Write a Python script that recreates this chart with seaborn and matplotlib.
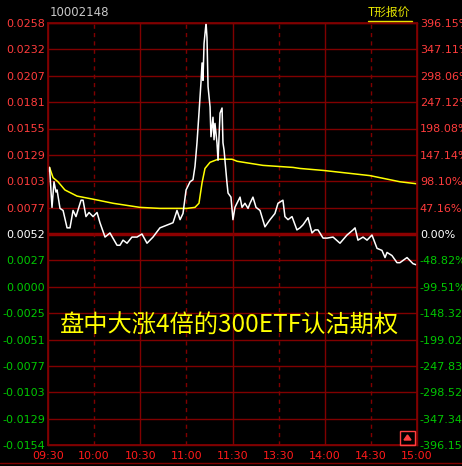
import numpy as np
import pandas as pd
import matplotlib
matplotlib.use('Agg')
import matplotlib.pyplot as plt
import seaborn as sns
from matplotlib.lines import Line2D
from matplotlib.patches import Rectangle, Polygon

# ---- data ----
price_min = [0, 1, 2.6, 3.9, 5.2, 5.9, 7.8, 9.8, 12.4, 14.3, 16.3, 18.2, 21.5, 22.8, 24.7, 26.7,
             29.3, 31.9, 33.8, 37.1, 40.3, 44.9, 46.8, 48.8, 51.4, 54.6, 57.9, 61.1, 64.4, 68.3,
             72.8, 81.3, 83.9, 85.9, 87.8, 89.8, 92.4, 94.3, 95.6, 96.9, 98.2, 99.5, 100.2, 100.8,
             101.5, 102.8, 103.4, 104.1, 105.4, 106.0, 107.3, 108.0, 108.6, 109.9, 110.6, 111.9,
             113.2, 113.8, 114.5, 116.4, 117.1, 119.0, 120.3, 121.6, 122.9, 124.9, 126.2, 128.1,
             130.1, 131.4, 133.3, 135.3, 137.9, 141.1, 144.4, 147.6, 149.6, 152.8, 154.1, 156.1,
             158.7, 161.9, 163.9, 165.9, 169.1, 171.7, 173.7, 175.6, 178.9, 181.5, 185.4, 189.9,
             194.5, 198.4, 199.7, 201.6, 204.9, 207.5, 210.7, 214.0, 217.2, 219.2, 220.5, 223.7,
             227.0, 228.9, 233.5, 234.8, 237.4, 239.4]
price_val = [0.0113, 0.0117, 0.0078, 0.0103, 0.0093, 0.0095, 0.0077, 0.0075, 0.0058, 0.0058,
             0.0075, 0.0069, 0.0085, 0.0085, 0.0069, 0.0073, 0.0069, 0.0073, 0.0063, 0.0049,
             0.0053, 0.0041, 0.0041, 0.0046, 0.0043, 0.0049, 0.0049, 0.0052, 0.0043, 0.0049,
             0.0058, 0.0063, 0.0075, 0.0066, 0.0072, 0.0095, 0.0103, 0.0105, 0.0118, 0.0141,
             0.0170, 0.0200, 0.0219, 0.0202, 0.0238, 0.0258, 0.0244, 0.0196, 0.0176, 0.0147,
             0.0166, 0.0144, 0.0160, 0.0141, 0.0124, 0.0170, 0.0175, 0.0141, 0.0134, 0.0102,
             0.0092, 0.0088, 0.0066, 0.0078, 0.0082, 0.0088, 0.0078, 0.0082, 0.0077, 0.0082,
             0.0088, 0.0078, 0.0075, 0.0059, 0.0066, 0.0072, 0.0082, 0.0085, 0.0069, 0.0066,
             0.0069, 0.0056, 0.0058, 0.0061, 0.0068, 0.0053, 0.0056, 0.0056, 0.0048, 0.0048,
             0.0049, 0.0043, 0.0051, 0.0056, 0.0058, 0.0046, 0.0049, 0.0046, 0.0051, 0.0038,
             0.0036, 0.0029, 0.0034, 0.0031, 0.0024, 0.0024, 0.0029, 0.0027, 0.0023, 0.0022]

avg_min = [0, 1, 3.3, 6.5, 11, 18.9, 29.3, 42.3, 59.8, 72.8, 90.4, 95.6, 98.2, 100.2, 102.1,
           105.4, 110.6, 119.7, 123, 139.8, 159.4, 163.9, 179.5, 209.4, 228.9, 240]
avg_val = [0.0115, 0.0117, 0.0107, 0.0103, 0.0095, 0.0089, 0.0086, 0.0082, 0.0078, 0.0077,
           0.0077, 0.0078, 0.0082, 0.0102, 0.0116, 0.0122, 0.0125, 0.0125, 0.0123, 0.0119,
           0.0117, 0.0116, 0.0114, 0.0109, 0.0103, 0.0101]

left_labels = ['0.0258', '0.0232', '0.0207', '0.0181', '0.0155', '0.0129', '0.0103', '0.0077',
               '0.0052', '0.0027', '0.0000', '-0.0025', '-0.0051', '-0.0077', '-0.0103',
               '-0.0129', '-0.0154']
right_labels = ['396.15%', '347.11%', '298.06%', '247.12%', '198.08%', '147.14%', '98.10%',
                '47.16%', '0.00%', '-48.82%', '-99.51%', '-148.32%', '-199.02%', '-247.83%',
                '-298.52%', '-347.34%', '-396.15%']
time_labels = ['09:30', '10:00', '10:30', '11:00', '11:30', '13:30', '14:00', '14:30', '15:00']

y_top, y_bot, pre_close = 0.0258, -0.0154, 0.0052

RED = '#ff3c3c'
GREEN = '#00c800'
GRID = '#800000'

sns.set_theme(style='dark', rc={'figure.facecolor': 'black', 'axes.facecolor': 'black',
                                'axes.edgecolor': GRID, 'savefig.facecolor': 'black'})
plt.rcParams['font.family'] = ['DejaVu Sans', 'Noto Sans CJK SC']

W, H = 462, 466
fig = plt.figure(figsize=(W / 100, H / 100), dpi=100)
ax = fig.add_axes([48 / W, (H - 445) / H, (417 - 48) / W, (445 - 23) / H])
ax.set_xlim(0, 240)
ax.set_ylim(y_bot, y_top)

yticks = np.linspace(y_top, y_bot, len(left_labels))
for i, yv in enumerate(yticks):
    if left_labels[i] == '0.0052':
        ax.axhline(yv, color='#8c0000', lw=2.5, zorder=1)
    else:
        ax.axhline(yv, color=GRID, lw=1, zorder=1)
for k in range(1, 8):
    ax.axvline(k * 30, color=GRID, lw=1, ls=(0, (3, 3)) if k % 2 else '-', zorder=1)

df_p = pd.DataFrame({'t': price_min, 'v': price_val})
df_a = pd.DataFrame({'t': avg_min, 'v': avg_val})
sns.lineplot(data=df_a, x='t', y='v', ax=ax, color='#ffff00', lw=1.1, estimator=None, zorder=3)
sns.lineplot(data=df_p, x='t', y='v', ax=ax, color='white', lw=1.1, estimator=None, zorder=4)

ax.set_xlabel('')
ax.set_ylabel('')
ax.grid(False)
for s in ax.spines.values():
    s.set_color(GRID)
    s.set_linewidth(1)

def lab_color(lbl):
    if lbl.startswith('-'):
        return GREEN
    if lbl in ('0.0052', '0.00%'):
        return 'white'
    if lbl == '0.0000' or lbl == '0.0027':
        return GREEN
    return RED

ax.set_yticks(yticks)
ax.set_yticklabels(left_labels, fontsize=8)
for t in ax.get_yticklabels():
    t.set_color(lab_color(t.get_text()))
ax.set_xticks(np.arange(0, 241, 30))
ax.set_xticklabels(time_labels, fontsize=8, color='#ff1a1a')
ax.tick_params(axis='y', length=0, pad=2)
ax.tick_params(axis='x', length=0, pad=4)

ax2 = ax.twinx()
ax2.set_ylim(y_bot, y_top)
ax2.set_yticks(yticks)
ax2.set_yticklabels(right_labels, fontsize=8)
for t in ax2.get_yticklabels():
    t.set_color(lab_color(t.get_text()))
ax2.tick_params(axis='y', length=0, pad=2)
ax2.grid(False)
for s in ax2.spines.values():
    s.set_color(GRID)

# header texts
fig.text(50 / W, 1 - 12 / H, '10002148', color='#c8c8c8', fontsize=8.5, va='center', ha='left')
fig.text(368 / W, 1 - 12 / H, 'T形报价', color='#e6e600', fontsize=8.5, va='center', ha='left',
         family=['Noto Sans CJK SC', 'DejaVu Sans'])
fig.add_artist(Line2D([368 / W, 412 / W], [1 - 21 / H, 1 - 21 / H], color='#e6e600', lw=1))

# caption
fig.text(60 / W, 1 - 326 / H, '盘中大涨4倍的300ETF认沽期权', color='#ffff00', fontsize=17.5,
         va='center', ha='left', family=['Noto Sans CJK SC', 'DejaVu Sans'])

# small button bottom right
fig.add_artist(Rectangle((400 / W, 1 - 445 / H), 15 / W, 14 / H, fill=False,
                         edgecolor='#ff4040', lw=1))
fig.add_artist(Polygon([[404 / W, 1 - 440 / H], [411 / W, 1 - 440 / H], [407.5 / W, 1 - 435 / H]],
                       closed=True, color='#ff4040'))

# bottom frame line
fig.add_artist(Line2D([0, 1], [1 - 463 / H, 1 - 463 / H], color=GRID, lw=1))

fig.savefig('out.png', dpi=100, facecolor='black')
